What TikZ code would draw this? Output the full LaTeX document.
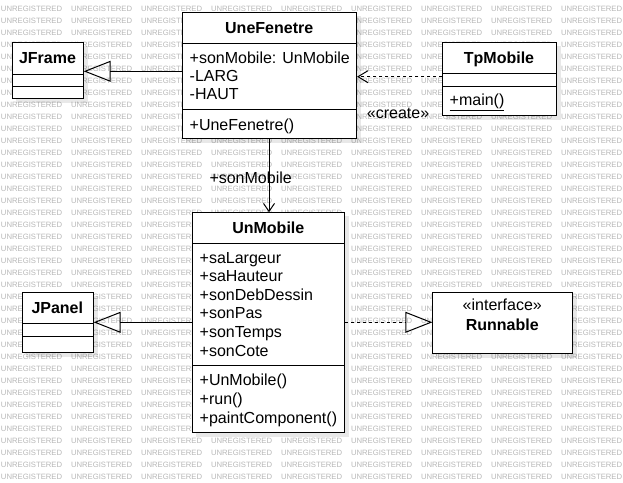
\documentclass[tikz,border=0pt]{standalone}
\usepackage{fontspec}
\setmainfont{Liberation Sans}
\usetikzlibrary{arrows.meta}
\begin{document}
\begin{tikzpicture}[x=1pt,y=-1pt,
  classbox/.style={draw=black, line width=1pt, fill=white, rectangle, inner sep=0pt, anchor=north west},
  shadowbox/.style={fill=black, fill opacity=0.09, draw=none},
  sep/.style={line width=1pt},
  txt/.style={inner sep=0pt, anchor=base west, font=\fontsize{16}{18.5}\selectfont},
  ttl/.style={inner sep=0pt, anchor=base, font=\fontsize{16}{18.5}\selectfont\bfseries},
  wm/.style={inner sep=0pt, anchor=west, text=black!28, font=\fontsize{7.7}{8}\selectfont},
  conn/.style={line width=1pt, draw=black},
  gen/.style={conn, {Triangle[open, length=27pt, width=21pt, line width=1pt]}-},
  assoc/.style={conn, -{Straight Barb[length=8pt, width=11pt, line width=1pt]}},
  dep/.style={conn, dash pattern=on 3pt off 3pt, -{Straight Barb[length=10pt, width=12pt, line width=1pt]}},
  real/.style={conn, dash pattern=on 3pt off 3pt, -{Triangle[open, length=27pt, width=21pt, line width=1pt]}}
]
\useasboundingbox (0,0) rectangle (623,482);
\fill[white] (0,0) rectangle (623,482);
% watermark
\foreach \r in {0,...,39}{
  \foreach \c in {0,...,8}{
    \node[wm] (wm-\r-\c) at ({0.8+70*\c},{9+12*\r}) {UNREGISTERED};
  }
}
% shadows
\fill[shadowbox] (16.3,46.3) rectangle (87.7,103);
\fill[shadowbox] (186.3,16.3) rectangle (361,143.3);
\fill[shadowbox] (446.3,46.3) rectangle (560.7,120);
\fill[shadowbox] (196.3,216.3) rectangle (349.3,437.3);
\fill[shadowbox] (26,296.3) rectangle (97.7,356.7);
\fill[shadowbox] (436.3,296.3) rectangle (577.3,358.3);

% JFrame
\node[classbox, minimum width=70.4pt, minimum height=55.7pt] (jf) at (12.3,42.3) {};
\draw[sep] (12.3,74) -- (82.7,74);
\draw[sep] (12.3,86) -- (82.7,86);
\node[ttl] (jf-t) at (47.5,63.8) {JFrame};

% UneFenetre
\node[classbox, minimum width=173.7pt, minimum height=126pt] (uf) at (182.3,12.3) {};
\draw[sep] (182.3,43.3) -- (356,43.3);
\draw[sep] (182.3,109.3) -- (356,109.3);
\node[ttl] (uf-t) at (269.2,33.6) {UneFenetre};
\node[txt] (uf-a1) at (189.5,63.5) {+sonMobile: UnMobile};
\node[txt] (uf-a2) at (189.5,81.5) {-LARG};
\node[txt] (uf-a3) at (189.5,99) {-HAUT};
\node[txt] (uf-m1) at (189.5,130.5) {+UneFenetre()};

% TpMobile
\node[classbox, minimum width=113.4pt, minimum height=72.7pt] (tp) at (442.3,42.3) {};
\draw[sep] (442.3,73.3) -- (555.7,73.3);
\draw[sep] (442.3,86) -- (555.7,86);
\node[ttl] (tp-t) at (499,63.6) {TpMobile};
\node[txt] (tp-m1) at (449.5,105.5) {\underline{+main()}};

% UnMobile
\node[classbox, minimum width=152pt, minimum height=220pt] (um) at (192.3,212.3) {};
\draw[sep] (192.3,243.3) -- (344.3,243.3);
\draw[sep] (192.3,365.7) -- (344.3,365.7);
\node[ttl] (um-t) at (268.3,233.6) {UnMobile};
\node[txt] (um-a1) at (199.5,263.8) {+saLargeur};
\node[txt] (um-a2) at (199.5,281.6) {+saHauteur};
\node[txt] (um-a3) at (199.5,300.3) {+sonDebDessin};
\node[txt] (um-a4) at (199.5,318.8) {+sonPas};
\node[txt] (um-a5) at (199.5,337.6) {+sonTemps};
\node[txt] (um-a6) at (199.5,356) {+sonCote};
\node[txt] (um-m1) at (199.5,385.5) {+UnMobile()};
\node[txt] (um-m2) at (199.5,404.2) {+run()};
\node[txt] (um-m3) at (199.5,423) {+paintComponent()};

% JPanel
\node[classbox, minimum width=70.7pt, minimum height=59.4pt] (jp) at (22,292.3) {};
\draw[sep] (22,323.3) -- (92.7,323.3);
\draw[sep] (22,336) -- (92.7,336);
\node[ttl] (jp-t) at (57.3,313.6) {JPanel};

% Runnable
\node[classbox, minimum width=140pt, minimum height=61pt] (rn) at (432.3,292.3) {};
\node[txt, anchor=base] (rn-s) at (502.3,310.5) {«interface»};
\node[ttl] (rn-t) at (502.3,330) {Runnable};

% connectors
\draw[gen] (jf.east |- 0,71.3) -- (uf.west |- 0,71.3);
\draw[dep] (tp.west |- 0,76.7) -- (uf.east |- 0,76.7);
\node[txt] (create) at (366.7,118.3) {«create»};
\draw[assoc] (uf.south -| 269,0) -- (um.north -| 269,0);
\node[txt] (sonmob) at (209.3,183.3) {+sonMobile};
\draw[gen] (jp.east |- 0,322.3) -- (um.west |- 0,322.3);
\draw[real] (um.east |- 0,322.3) -- (rn.west |- 0,322.3);
\end{tikzpicture}
\end{document}
